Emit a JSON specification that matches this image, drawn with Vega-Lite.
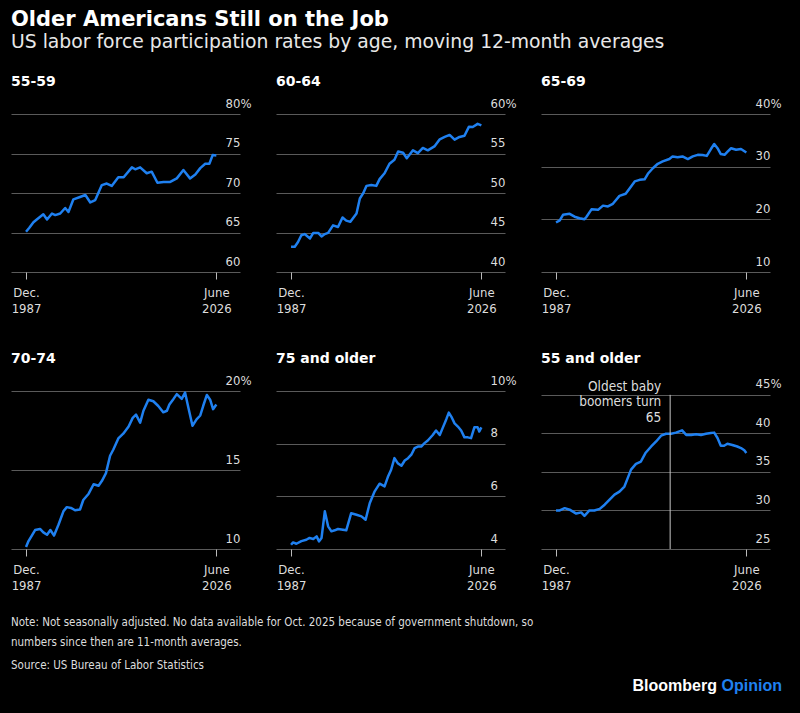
{
  "$schema": "https://vega.github.io/schema/vega-lite/v6.json",
  "background": "black",
  "padding": {"left": 11, "top": 9, "right": 18, "bottom": 16},
  "title": {
    "text": "Older Americans Still on the Job",
    "subtitle": "US labor force participation rates by age, moving 12-month averages",
    "anchor": "start",
    "frame": "group",
    "font": "DejaVu Sans",
    "fontSize": 21,
    "fontWeight": "bold",
    "color": "#ffffff",
    "subtitleFont": "DejaVu Sans",
    "subtitleFontSize": 18.8,
    "subtitleColor": "#e8e8e8",
    "subtitlePadding": 3,
    "offset": 23
  },
  "datasets": {
    "rates": [
      {"age":"55-59","date":"1987-12","rate":65.1},{"age":"55-59","date":"1988-08","rate":65.6},{"age":"55-59","date":"1989-06","rate":66.3},{"age":"55-59","date":"1990-02","rate":66.65},{"age":"55-59","date":"1991-06","rate":67.3},{"age":"55-59","date":"1992-03","rate":66.65},{"age":"55-59","date":"1993-03","rate":67.4},{"age":"55-59","date":"1993-11","rate":67.2},{"age":"55-59","date":"1994-11","rate":67.4},{"age":"55-59","date":"1995-11","rate":68.1},{"age":"55-59","date":"1996-07","rate":67.6},{"age":"55-59","date":"1997-07","rate":69.2},{"age":"55-59","date":"1998-11","rate":69.5},{"age":"55-59","date":"1999-12","rate":69.75},{"age":"55-59","date":"2000-12","rate":68.8},{"age":"55-59","date":"2001-12","rate":69.1},{"age":"55-59","date":"2003-04","rate":71.0},{"age":"55-59","date":"2004-04","rate":71.2},{"age":"55-59","date":"2005-04","rate":70.9},{"age":"55-59","date":"2006-08","rate":72.0},{"age":"55-59","date":"2007-09","rate":72.0},{"age":"55-59","date":"2009-05","rate":73.25},{"age":"55-59","date":"2010-01","rate":73.0},{"age":"55-59","date":"2011-01","rate":73.25},{"age":"55-59","date":"2012-05","rate":72.5},{"age":"55-59","date":"2013-05","rate":72.7},{"age":"55-59","date":"2014-07","rate":71.3},{"age":"55-59","date":"2015-10","rate":71.4},{"age":"55-59","date":"2017-02","rate":71.4},{"age":"55-59","date":"2018-06","rate":71.85},{"age":"55-59","date":"2019-10","rate":72.9},{"age":"55-59","date":"2021-02","rate":71.85},{"age":"55-59","date":"2022-03","rate":72.35},{"age":"55-59","date":"2023-03","rate":73.15},{"age":"55-59","date":"2024-03","rate":73.7},{"age":"55-59","date":"2025-01","rate":73.7},{"age":"55-59","date":"2025-09","rate":74.8},{"age":"55-59","date":"2026-06","rate":74.75},
      {"age":"60-64","date":"1987-12","rate":43.2},{"age":"60-64","date":"1988-09","rate":43.2},{"age":"60-64","date":"1989-05","rate":43.8},{"age":"60-64","date":"1990-01","rate":44.65},{"age":"60-64","date":"1990-09","rate":44.8},{"age":"60-64","date":"1991-10","rate":44.25},{"age":"60-64","date":"1992-06","rate":44.95},{"age":"60-64","date":"1993-06","rate":44.95},{"age":"60-64","date":"1994-02","rate":44.5},{"age":"60-64","date":"1994-10","rate":44.8},{"age":"60-64","date":"1995-06","rate":44.95},{"age":"60-64","date":"1996-06","rate":45.9},{"age":"60-64","date":"1997-06","rate":45.7},{"age":"60-64","date":"1998-05","rate":46.9},{"age":"60-64","date":"1999-02","rate":46.5},{"age":"60-64","date":"1999-12","rate":46.35},{"age":"60-64","date":"2001-03","rate":47.4},{"age":"60-64","date":"2001-11","rate":49.3},{"age":"60-64","date":"2002-07","rate":49.95},{"age":"60-64","date":"2003-03","rate":50.9},{"age":"60-64","date":"2004-03","rate":51.0},{"age":"60-64","date":"2005-03","rate":50.9},{"age":"60-64","date":"2005-11","rate":51.75},{"age":"60-64","date":"2006-11","rate":52.5},{"age":"60-64","date":"2007-11","rate":53.7},{"age":"60-64","date":"2008-11","rate":54.2},{"age":"60-64","date":"2009-08","rate":55.25},{"age":"60-64","date":"2010-08","rate":55.1},{"age":"60-64","date":"2011-05","rate":54.4},{"age":"60-64","date":"2012-08","rate":55.4},{"age":"60-64","date":"2013-08","rate":55.05},{"age":"60-64","date":"2014-08","rate":55.7},{"age":"60-64","date":"2015-08","rate":55.4},{"age":"60-64","date":"2016-12","rate":55.9},{"age":"60-64","date":"2018-01","rate":56.8},{"age":"60-64","date":"2019-01","rate":57.1},{"age":"60-64","date":"2020-01","rate":57.35},{"age":"60-64","date":"2021-01","rate":56.75},{"age":"60-64","date":"2022-01","rate":57.1},{"age":"60-64","date":"2023-01","rate":57.25},{"age":"60-64","date":"2023-12","rate":58.4},{"age":"60-64","date":"2024-09","rate":58.35},{"age":"60-64","date":"2025-09","rate":58.75},{"age":"60-64","date":"2026-06","rate":58.55},
      {"age":"65-69","date":"1987-12","rate":19.4},{"age":"65-69","date":"1988-09","rate":19.8},{"age":"65-69","date":"1989-05","rate":20.85},{"age":"65-69","date":"1990-09","rate":21.05},{"age":"65-69","date":"1991-09","rate":20.5},{"age":"65-69","date":"1992-09","rate":20.2},{"age":"65-69","date":"1993-09","rate":20.0},{"age":"65-69","date":"1994-02","rate":20.5},{"age":"65-69","date":"1995-02","rate":21.9},{"age":"65-69","date":"1996-06","rate":21.8},{"age":"65-69","date":"1997-06","rate":22.6},{"age":"65-69","date":"1998-06","rate":22.45},{"age":"65-69","date":"1999-06","rate":22.95},{"age":"65-69","date":"2000-10","rate":24.45},{"age":"65-69","date":"2002-01","rate":24.85},{"age":"65-69","date":"2002-11","rate":25.9},{"age":"65-69","date":"2003-11","rate":27.2},{"age":"65-69","date":"2004-11","rate":27.5},{"age":"65-69","date":"2005-11","rate":27.6},{"age":"65-69","date":"2006-07","rate":28.65},{"age":"65-69","date":"2007-07","rate":29.7},{"age":"65-69","date":"2008-07","rate":30.55},{"age":"65-69","date":"2009-07","rate":31.0},{"age":"65-69","date":"2010-11","rate":31.45},{"age":"65-69","date":"2011-07","rate":31.95},{"age":"65-69","date":"2012-07","rate":31.8},{"age":"65-69","date":"2013-07","rate":31.95},{"age":"65-69","date":"2014-08","rate":31.45},{"age":"65-69","date":"2015-08","rate":31.95},{"age":"65-69","date":"2016-08","rate":32.25},{"age":"65-69","date":"2017-08","rate":32.2},{"age":"65-69","date":"2018-06","rate":32.05},{"age":"65-69","date":"2019-04","rate":33.35},{"age":"65-69","date":"2019-12","rate":34.3},{"age":"65-69","date":"2020-08","rate":33.5},{"age":"65-69","date":"2021-04","rate":32.4},{"age":"65-69","date":"2022-01","rate":32.25},{"age":"65-69","date":"2022-09","rate":32.9},{"age":"65-69","date":"2023-05","rate":33.5},{"age":"65-69","date":"2024-05","rate":33.2},{"age":"65-69","date":"2025-05","rate":33.35},{"age":"65-69","date":"2026-06","rate":32.7},
      {"age":"70-74","date":"1987-12","rate":10.13},{"age":"70-74","date":"1988-06","rate":10.5},{"age":"70-74","date":"1989-02","rate":10.85},{"age":"70-74","date":"1989-10","rate":11.2},{"age":"70-74","date":"1990-10","rate":11.27},{"age":"70-74","date":"1991-06","rate":11.05},{"age":"70-74","date":"1992-03","rate":10.9},{"age":"70-74","date":"1992-11","rate":11.2},{"age":"70-74","date":"1993-08","rate":10.85},{"age":"70-74","date":"1994-07","rate":11.55},{"age":"70-74","date":"1995-07","rate":12.4},{"age":"70-74","date":"1996-03","rate":12.65},{"age":"70-74","date":"1997-01","rate":12.6},{"age":"70-74","date":"1997-11","rate":12.45},{"age":"70-74","date":"1998-11","rate":12.5},{"age":"70-74","date":"1999-07","rate":13.1},{"age":"70-74","date":"2000-08","rate":13.5},{"age":"70-74","date":"2001-08","rate":14.1},{"age":"70-74","date":"2002-08","rate":14.0},{"age":"70-74","date":"2003-04","rate":14.3},{"age":"70-74","date":"2004-02","rate":14.8},{"age":"70-74","date":"2004-12","rate":15.9},{"age":"70-74","date":"2005-08","rate":16.3},{"age":"70-74","date":"2006-08","rate":17.0},{"age":"70-74","date":"2007-08","rate":17.3},{"age":"70-74","date":"2008-09","rate":17.75},{"age":"70-74","date":"2009-07","rate":18.3},{"age":"70-74","date":"2010-03","rate":18.5},{"age":"70-74","date":"2011-01","rate":18.0},{"age":"70-74","date":"2011-09","rate":18.75},{"age":"70-74","date":"2012-09","rate":19.45},{"age":"70-74","date":"2013-09","rate":19.35},{"age":"70-74","date":"2014-09","rate":19.05},{"age":"70-74","date":"2015-09","rate":18.65},{"age":"70-74","date":"2016-06","rate":18.75},{"age":"70-74","date":"2016-12","rate":19.15},{"age":"70-74","date":"2017-10","rate":19.5},{"age":"70-74","date":"2018-06","rate":19.8},{"age":"70-74","date":"2019-06","rate":19.5},{"age":"70-74","date":"2020-02","rate":19.9},{"age":"70-74","date":"2020-10","rate":18.95},{"age":"70-74","date":"2021-08","rate":17.8},{"age":"70-74","date":"2022-06","rate":18.2},{"age":"70-74","date":"2023-03","rate":18.45},{"age":"70-74","date":"2023-10","rate":19.05},{"age":"70-74","date":"2024-07","rate":19.75},{"age":"70-74","date":"2025-03","rate":19.45},{"age":"70-74","date":"2025-10","rate":18.85},{"age":"70-74","date":"2026-06","rate":19.15},
      {"age":"75+","date":"1987-12","rate":4.16},{"age":"75+","date":"1988-05","rate":4.25},{"age":"75+","date":"1989-01","rate":4.2},{"age":"75+","date":"1990-01","rate":4.3},{"age":"75+","date":"1991-01","rate":4.35},{"age":"75+","date":"1991-09","rate":4.42},{"age":"75+","date":"1992-06","rate":4.38},{"age":"75+","date":"1993-02","rate":4.48},{"age":"75+","date":"1993-08","rate":4.29},{"age":"75+","date":"1994-02","rate":4.42},{"age":"75+","date":"1994-10","rate":5.43},{"age":"75+","date":"1995-06","rate":4.86},{"age":"75+","date":"1996-02","rate":4.67},{"age":"75+","date":"1996-10","rate":4.71},{"age":"75+","date":"1997-06","rate":4.76},{"age":"75+","date":"1998-06","rate":4.73},{"age":"75+","date":"1999-02","rate":4.71},{"age":"75+","date":"2000-02","rate":5.36},{"age":"75+","date":"2001-03","rate":5.3},{"age":"75+","date":"2002-03","rate":5.24},{"age":"75+","date":"2003-01","rate":5.11},{"age":"75+","date":"2003-11","rate":5.74},{"age":"75+","date":"2004-11","rate":6.19},{"age":"75+","date":"2005-11","rate":6.48},{"age":"75+","date":"2006-11","rate":6.38},{"age":"75+","date":"2007-07","rate":6.73},{"age":"75+","date":"2008-03","rate":7.01},{"age":"75+","date":"2008-11","rate":7.45},{"age":"75+","date":"2009-07","rate":7.26},{"age":"75+","date":"2010-04","rate":7.16},{"age":"75+","date":"2010-12","rate":7.36},{"age":"75+","date":"2011-08","rate":7.45},{"age":"75+","date":"2012-04","rate":7.58},{"age":"75+","date":"2012-12","rate":7.83},{"age":"75+","date":"2013-08","rate":7.89},{"age":"75+","date":"2014-04","rate":7.89},{"age":"75+","date":"2014-12","rate":8.02},{"age":"75+","date":"2015-08","rate":8.12},{"age":"75+","date":"2016-08","rate":8.33},{"age":"75+","date":"2017-04","rate":8.5},{"age":"75+","date":"2018-01","rate":8.33},{"age":"75+","date":"2018-08","rate":8.59},{"age":"75+","date":"2019-05","rate":8.93},{"age":"75+","date":"2019-11","rate":9.18},{"age":"75+","date":"2020-05","rate":9.03},{"age":"75+","date":"2021-01","rate":8.77},{"age":"75+","date":"2021-09","rate":8.65},{"age":"75+","date":"2022-05","rate":8.5},{"age":"75+","date":"2023-01","rate":8.24},{"age":"75+","date":"2023-09","rate":8.24},{"age":"75+","date":"2024-05","rate":8.21},{"age":"75+","date":"2025-01","rate":8.62},{"age":"75+","date":"2025-09","rate":8.62},{"age":"75+","date":"2026-01","rate":8.46},{"age":"75+","date":"2026-06","rate":8.62},
      {"age":"55+","date":"1987-12","rate":30.0},{"age":"55+","date":"1988-09","rate":30.0},{"age":"55+","date":"1989-09","rate":30.3},{"age":"55+","date":"1990-09","rate":30.1},{"age":"55+","date":"1992-01","rate":29.6},{"age":"55+","date":"1993-01","rate":29.75},{"age":"55+","date":"1993-09","rate":29.3},{"age":"55+","date":"1994-09","rate":30.0},{"age":"55+","date":"1995-09","rate":30.0},{"age":"55+","date":"1996-10","rate":30.2},{"age":"55+","date":"1997-10","rate":30.75},{"age":"55+","date":"1998-10","rate":31.4},{"age":"55+","date":"1999-10","rate":32.05},{"age":"55+","date":"2000-10","rate":32.45},{"age":"55+","date":"2001-10","rate":33.1},{"age":"55+","date":"2002-06","rate":34.2},{"age":"55+","date":"2003-02","rate":35.3},{"age":"55+","date":"2004-02","rate":36.05},{"age":"55+","date":"2005-02","rate":36.35},{"age":"55+","date":"2006-01","rate":37.45},{"age":"55+","date":"2007-03","rate":38.3},{"age":"55+","date":"2008-03","rate":38.95},{"age":"55+","date":"2009-03","rate":39.7},{"age":"55+","date":"2010-03","rate":39.95},{"age":"55+","date":"2011-03","rate":39.95},{"age":"55+","date":"2012-03","rate":40.1},{"age":"55+","date":"2013-06","rate":40.4},{"age":"55+","date":"2014-04","rate":39.8},{"age":"55+","date":"2015-04","rate":39.8},{"age":"55+","date":"2016-04","rate":39.9},{"age":"55+","date":"2017-04","rate":39.8},{"age":"55+","date":"2018-04","rate":39.95},{"age":"55+","date":"2019-04","rate":40.05},{"age":"55+","date":"2019-12","rate":40.1},{"age":"55+","date":"2020-08","rate":39.4},{"age":"55+","date":"2021-04","rate":38.4},{"age":"55+","date":"2021-12","rate":38.4},{"age":"55+","date":"2022-08","rate":38.65},{"age":"55+","date":"2023-08","rate":38.5},{"age":"55+","date":"2024-08","rate":38.3},{"age":"55+","date":"2025-05","rate":38.1},{"age":"55+","date":"2026-01","rate":37.8},{"age":"55+","date":"2026-06","rate":37.45}
    ],
    "events": [{"date": "2011-01", "label": "Oldest baby\nboomers turn\n65"}],
    "brand": [{"name": "Bloomberg", "suffix": "Opinion"}]
  },
  "data": {"name": "rates"},
  "vconcat": [
    {
      "columns": 3,
      "spacing": {"row": 119, "column": 36},
      "bounds": "flush",
      "concat": [
        {
          "title": "55-59", "width": 229, "height": 158,
          "transform": [{"filter": "datum.age === '55-59'"}],
          "mark": {"type": "line", "color": "#1f80f0", "strokeWidth": 2.5, "strokeJoin": "round"},
          "encoding": {
            "x": {"field": "date", "type": "temporal", "title": null, "scale": {"type": "utc", "domain": [{"year": 1984, "month": 11, "date": 15, "utc": true}, {"year": 2031, "month": 3, "date": 15, "utc": true}]},
                  "axis": {"values": [{"year": 1987, "month": 12, "date": 1, "utc": true}, {"year": 2026, "month": 6, "date": 1, "utc": true}], "labelExpr": "utcmonth(datum.value) == 11 ? ['Dec.', '1987'] : ['June', '2026']"}},
            "y": {"field": "rate", "type": "quantitative", "title": null, "scale": {"domain": [60, 80], "nice": false, "zero": false},
                  "axis": {"orient": "right", "values": [60, 65, 70, 75, 80], "labelExpr": "datum.value == 80 ? datum.label + '%' : datum.label"}}
          }
        },
        {
          "title": "60-64", "width": 229, "height": 158,
          "transform": [{"filter": "datum.age === '60-64'"}],
          "mark": {"type": "line", "color": "#1f80f0", "strokeWidth": 2.5, "strokeJoin": "round"},
          "encoding": {
            "x": {"field": "date", "type": "temporal", "title": null, "scale": {"type": "utc", "domain": [{"year": 1984, "month": 11, "date": 15, "utc": true}, {"year": 2031, "month": 3, "date": 15, "utc": true}]},
                  "axis": {"values": [{"year": 1987, "month": 12, "date": 1, "utc": true}, {"year": 2026, "month": 6, "date": 1, "utc": true}], "labelExpr": "utcmonth(datum.value) == 11 ? ['Dec.', '1987'] : ['June', '2026']"}},
            "y": {"field": "rate", "type": "quantitative", "title": null, "scale": {"domain": [40, 60], "nice": false, "zero": false},
                  "axis": {"orient": "right", "values": [40, 45, 50, 55, 60], "labelExpr": "datum.value == 60 ? datum.label + '%' : datum.label"}}
          }
        },
        {
          "title": "65-69", "width": 229, "height": 158,
          "transform": [{"filter": "datum.age === '65-69'"}],
          "mark": {"type": "line", "color": "#1f80f0", "strokeWidth": 2.5, "strokeJoin": "round"},
          "encoding": {
            "x": {"field": "date", "type": "temporal", "title": null, "scale": {"type": "utc", "domain": [{"year": 1984, "month": 11, "date": 15, "utc": true}, {"year": 2031, "month": 3, "date": 15, "utc": true}]},
                  "axis": {"values": [{"year": 1987, "month": 12, "date": 1, "utc": true}, {"year": 2026, "month": 6, "date": 1, "utc": true}], "labelExpr": "utcmonth(datum.value) == 11 ? ['Dec.', '1987'] : ['June', '2026']"}},
            "y": {"field": "rate", "type": "quantitative", "title": null, "scale": {"domain": [10, 40], "nice": false, "zero": false},
                  "axis": {"orient": "right", "values": [10, 20, 30, 40], "labelExpr": "datum.value == 40 ? datum.label + '%' : datum.label"}}
          }
        },
        {
          "title": "70-74", "width": 229, "height": 158,
          "transform": [{"filter": "datum.age === '70-74'"}],
          "mark": {"type": "line", "color": "#1f80f0", "strokeWidth": 2.5, "strokeJoin": "round"},
          "encoding": {
            "x": {"field": "date", "type": "temporal", "title": null, "scale": {"type": "utc", "domain": [{"year": 1984, "month": 11, "date": 15, "utc": true}, {"year": 2031, "month": 3, "date": 15, "utc": true}]},
                  "axis": {"values": [{"year": 1987, "month": 12, "date": 1, "utc": true}, {"year": 2026, "month": 6, "date": 1, "utc": true}], "labelExpr": "utcmonth(datum.value) == 11 ? ['Dec.', '1987'] : ['June', '2026']"}},
            "y": {"field": "rate", "type": "quantitative", "title": null, "scale": {"domain": [10, 20], "nice": false, "zero": false},
                  "axis": {"orient": "right", "values": [10, 15, 20], "labelExpr": "datum.value == 20 ? datum.label + '%' : datum.label"}}
          }
        },
        {
          "title": "75 and older", "width": 229, "height": 158,
          "transform": [{"filter": "datum.age === '75+'"}],
          "mark": {"type": "line", "color": "#1f80f0", "strokeWidth": 2.5, "strokeJoin": "round"},
          "encoding": {
            "x": {"field": "date", "type": "temporal", "title": null, "scale": {"type": "utc", "domain": [{"year": 1984, "month": 11, "date": 15, "utc": true}, {"year": 2031, "month": 3, "date": 15, "utc": true}]},
                  "axis": {"values": [{"year": 1987, "month": 12, "date": 1, "utc": true}, {"year": 2026, "month": 6, "date": 1, "utc": true}], "labelExpr": "utcmonth(datum.value) == 11 ? ['Dec.', '1987'] : ['June', '2026']"}},
            "y": {"field": "rate", "type": "quantitative", "title": null, "scale": {"domain": [4, 10], "nice": false, "zero": false},
                  "axis": {"orient": "right", "values": [4, 6, 8, 10], "labelExpr": "datum.value == 10 ? datum.label + '%' : datum.label"}}
          }
        },
        {
          "title": {"text": "55 and older", "offset": 12},
          "width": 229, "height": 158,
          "layer": [
            {
              "transform": [{"filter": "datum.age === '55+'"}],
              "mark": {"type": "line", "color": "#1f80f0", "strokeWidth": 2.5, "strokeJoin": "round"},
              "encoding": {
                "x": {"field": "date", "type": "temporal", "title": null, "scale": {"type": "utc", "domain": [{"year": 1984, "month": 11, "date": 15, "utc": true}, {"year": 2031, "month": 3, "date": 15, "utc": true}]},
                      "axis": {"values": [{"year": 1987, "month": 12, "date": 1, "utc": true}, {"year": 2026, "month": 6, "date": 1, "utc": true}], "labelExpr": "utcmonth(datum.value) == 11 ? ['Dec.', '1987'] : ['June', '2026']"}},
                "y": {"field": "rate", "type": "quantitative", "title": null, "scale": {"domain": [25, 45.5], "nice": false, "zero": false},
                      "axis": {"orient": "right", "values": [25, 30, 35, 40, 45], "labelExpr": "datum.value == 45 ? datum.label + '%' : datum.label"}}
              }
            },
            {
              "data": {"name": "events"},
              "mark": {"type": "rule", "color": "#c8c8c8", "strokeWidth": 1},
              "encoding": {
                "x": {"field": "date", "type": "temporal", "title": null,
                      "axis": {"values": [{"year": 1987, "month": 12, "date": 1, "utc": true}, {"year": 2026, "month": 6, "date": 1, "utc": true}], "labelExpr": "utcmonth(datum.value) == 11 ? ['Dec.', '1987'] : ['June', '2026']"}},
                "y": {"datum": 45, "type": "quantitative", "title": null,
                      "axis": {"orient": "right", "values": [25, 30, 35, 40, 45], "labelExpr": "datum.value == 45 ? datum.label + '%' : datum.label"}},
                "y2": {"datum": 25}
              }
            },
            {
              "data": {"name": "events"},
              "mark": {"type": "text", "align": "right", "baseline": "alphabetic", "dx": -9, "dy": -4, "lineBreak": "\n", "lineHeight": 15.5, "font": "DejaVu Sans Condensed, DejaVu Sans", "fontSize": 13.5, "color": "#dddddd"},
              "encoding": {
                "x": {"field": "date", "type": "temporal", "title": null,
                      "axis": {"values": [{"year": 1987, "month": 12, "date": 1, "utc": true}, {"year": 2026, "month": 6, "date": 1, "utc": true}], "labelExpr": "utcmonth(datum.value) == 11 ? ['Dec.', '1987'] : ['June', '2026']"}},
                "y": {"datum": 45, "type": "quantitative", "title": null,
                      "axis": {"orient": "right", "values": [25, 30, 35, 40, 45], "labelExpr": "datum.value == 45 ? datum.label + '%' : datum.label"}},
                "text": {"field": "label"}
              }
            }
          ]
        }
      ]
    },
    {
      "width": 771, "height": 22,
      "data": {"name": "brand"},
      "title": {
        "text": ["Note: Not seasonally adjusted. No data available for Oct. 2025 because of government shutdown, so", "numbers since then are 11-month averages."],
        "subtitle": "Source: US Bureau of Labor Statistics",
        "anchor": "start",
        "font": "DejaVu Sans Condensed, DejaVu Sans",
        "fontSize": 11.5,
        "fontWeight": "normal",
        "color": "#dddddd",
        "lineHeight": 20,
        "subtitleFont": "DejaVu Sans Condensed, DejaVu Sans",
        "subtitleFontSize": 11.5,
        "subtitleColor": "#dddddd",
        "subtitlePadding": 11,
        "offset": 4
      },
      "layer": [
        {
          "mark": {"type": "text", "align": "right", "baseline": "middle", "dx": -65, "font": "Liberation Sans", "fontWeight": "bold", "fontSize": 16, "color": "#ffffff"},
          "encoding": {"x": {"value": "width"}, "text": {"field": "name"}}
        },
        {
          "mark": {"type": "text", "align": "right", "baseline": "middle", "font": "Liberation Sans", "fontWeight": "bold", "fontSize": 16, "color": "#1f80f0"},
          "encoding": {"x": {"value": "width"}, "text": {"field": "suffix"}}
        }
      ]
    }
  ],
  "spacing": 24,
  "config": {
    "view": {"stroke": null},
    "title": {"anchor": "start", "font": "DejaVu Sans", "fontSize": 14, "fontWeight": "bold", "color": "#ffffff", "offset": 8},
    "axisX": {"grid": false, "domain": false, "ticks": true, "tickSize": 7, "tickColor": "#bbbbbb", "tickWidth": 1, "labelPadding": 7, "labelAlign": "center", "labelBaseline": "top", "labelLineHeight": 16.5, "labelFont": "DejaVu Sans Condensed, DejaVu Sans", "labelFontSize": 13, "labelColor": "#dddddd", "labelFlush": false, "labelOverlap": false},
    "axisY": {"grid": true, "gridColor": "#5a5a5a", "gridWidth": 1, "domain": false, "ticks": false, "labelPadding": -15, "labelAlign": "left", "labelBaseline": "alphabetic", "labelOffset": -7, "labelFont": "DejaVu Sans Condensed, DejaVu Sans", "labelFontSize": 13, "labelColor": "#dddddd", "labelFlush": false, "labelOverlap": false}
  }
}
